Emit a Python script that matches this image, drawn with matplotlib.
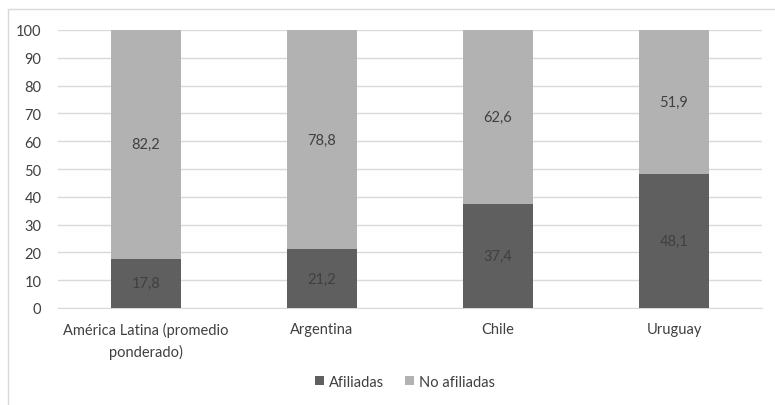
import matplotlib
matplotlib.use("Agg")
import matplotlib.pyplot as plt
from matplotlib.patches import Rectangle

categories = ["América Latina (promedio\nponderado)", "Argentina", "Chile", "Uruguay"]
afiliadas = [17.8, 21.2, 37.4, 48.1]
no_afiliadas = [82.2, 78.8, 62.6, 51.9]
afiliadas_labels = ["17,8", "21,2", "37,4", "48,1"]
no_afiliadas_labels = ["82,2", "78,8", "62,6", "51,9"]
series_names = ["Afiliadas", "No afiliadas"]
yticks = [0, 10, 20, 30, 40, 50, 60, 70, 80, 90, 100]

plt.rcParams['font.family'] = ['Lato', 'DejaVu Sans']
FS = 10.5

W, H = 775, 406
fig = plt.figure(figsize=(W / 100, H / 100), dpi=100)
fig.patch.set_facecolor("white")

# outer frame
fig.patches.append(Rectangle((8 / W, -0.1), 1.2, 1 - 10 / H + 0.1, transform=fig.transFigure,
                             fill=False, edgecolor="#d9d9d9", linewidth=1.0))

ax = fig.add_axes([58 / W, 1 - 309 / H, (762 - 58) / W, (309 - 31) / H])

dark = "#5f5f5f"
light = "#b2b2b2"
x = list(range(len(categories)))
b1 = ax.bar(x, afiliadas, width=0.40, color=dark, label=series_names[0], zorder=3)
b2 = ax.bar(x, no_afiliadas, width=0.40, bottom=afiliadas, color=light, label=series_names[1], zorder=3)

for i in x:
    ax.text(i, afiliadas[i] / 2, afiliadas_labels[i], ha="center", va="center",
            fontsize=FS, color="#404040", zorder=4)
    ax.text(i, afiliadas[i] + no_afiliadas[i] / 2, no_afiliadas_labels[i], ha="center", va="center",
            fontsize=FS, color="#404040", zorder=4)

ax.set_xlim(-0.5, 3.5)
ax.set_ylim(0, 100)
ax.set_yticks(yticks)
ax.set_xticks(x)
ax.set_xticklabels(categories, fontsize=FS, color="#404040", linespacing=1.55, multialignment="center")
ax.tick_params(axis="y", labelsize=FS, labelcolor="#404040", length=0, pad=12)
ax.tick_params(axis="x", length=0, pad=10)
ax.grid(axis="y", color="#d9d9d9", linewidth=1.0, zorder=0)
for s in ["top", "right", "left"]:
    ax.spines[s].set_visible(False)
ax.spines["bottom"].set_color("#d9d9d9")
ax.set_axisbelow(True)

leg = fig.legend(handles=[b1, b2], labels=series_names, loc="center", bbox_to_anchor=(405 / W, 1 - 383 / H),
                 ncol=2, frameon=False, fontsize=FS, handlelength=0.6, handleheight=0.6,
                 handletextpad=0.3, columnspacing=1.5)
for t in leg.get_texts():
    t.set_color("#404040")

fig.savefig("out.png", dpi=100)
